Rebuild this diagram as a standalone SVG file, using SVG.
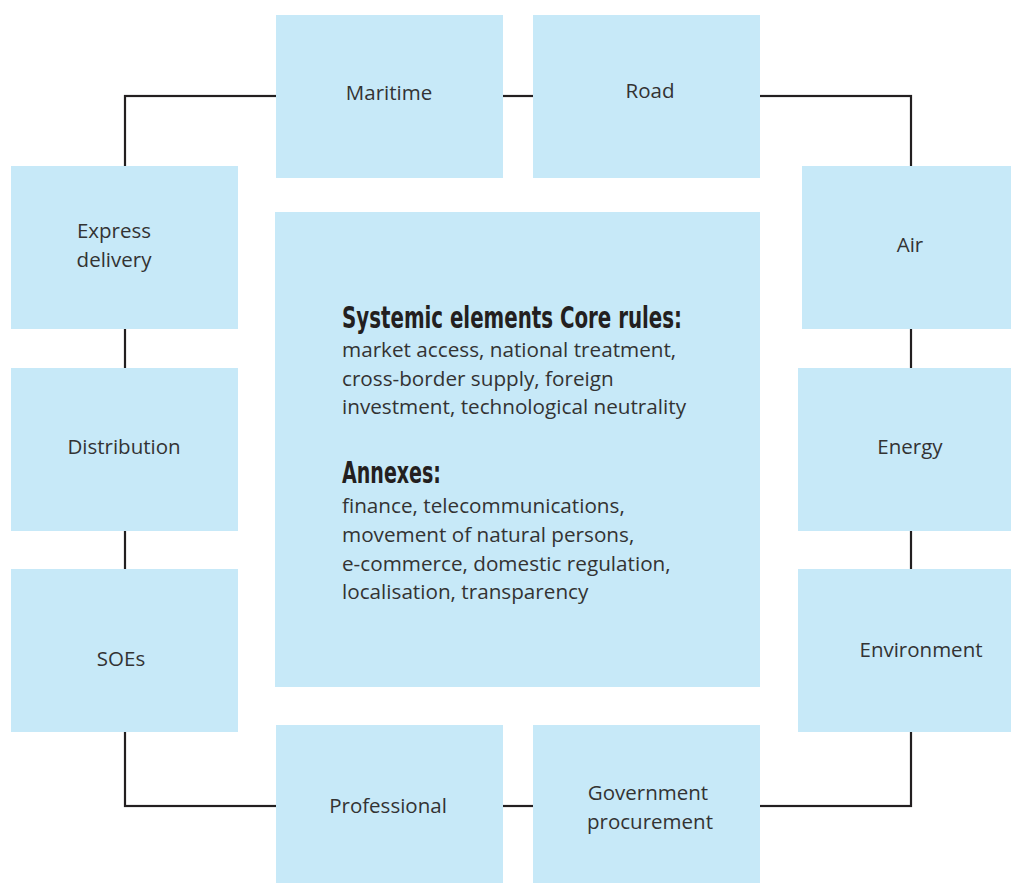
<svg xmlns="http://www.w3.org/2000/svg" width="1011" height="883" viewBox="0 0 1011 883">
<style>
.box{fill:#c7e9f8}
.lbl{font-family:"Open Sans",Lato,sans-serif;font-size:20.5px;fill:#333333;text-anchor:middle}
.body{font-family:"Open Sans",Lato,sans-serif;font-size:20.7px;fill:#333333}
.hd{font-family:"Liberation Sans Narrow","DejaVu Sans Condensed",sans-serif;font-weight:bold;font-size:30px;fill:#231f20}
.conn{fill:none;stroke:#231f20;stroke-width:2.2}
</style>
<rect width="1011" height="883" fill="#ffffff"/>
<g id="connectors">
<rect class="conn" x="125" y="96" width="786" height="710"/>
</g>
<g id="maritime"><rect class="box" x="276" y="15" width="227" height="163"/><text class="lbl" x="389" y="100">Maritime</text></g>
<g id="road"><rect class="box" x="533" y="15" width="227" height="163"/><text class="lbl" x="650" y="98">Road</text></g>
<g id="express"><rect class="box" x="11" y="166" width="227" height="163"/><text class="lbl" x="114" y="238">Express</text><text class="lbl" x="114" y="267">delivery</text></g>
<g id="air"><rect class="box" x="802" y="166" width="209" height="163"/><text class="lbl" x="910" y="252">Air</text></g>
<g id="distribution"><rect class="box" x="11" y="368" width="227" height="163"/><text class="lbl" x="124" y="454">Distribution</text></g>
<g id="energy"><rect class="box" x="798" y="368" width="213" height="163"/><text class="lbl" x="910" y="454">Energy</text></g>
<g id="soes"><rect class="box" x="11" y="569" width="227" height="163"/><text class="lbl" x="121" y="666">SOEs</text></g>
<g id="environment"><rect class="box" x="798" y="569" width="213" height="163"/><text class="lbl" x="921" y="657">Environment</text></g>
<g id="professional"><rect class="box" x="276" y="725" width="227" height="158"/><text class="lbl" x="388" y="813">Professional</text></g>
<g id="government"><rect class="box" x="533" y="725" width="227" height="158"/><text class="lbl" x="648" y="800">Government</text><text class="lbl" x="650" y="829">procurement</text></g>
<g id="center">
<rect class="box" x="275" y="212" width="485" height="475"/>
<text class="hd" x="342" y="328" textLength="340" lengthAdjust="spacingAndGlyphs">Systemic elements Core rules:</text>
<text class="body" x="342" y="357">market access, national treatment,</text>
<text class="body" x="342" y="386">cross-border supply, foreign</text>
<text class="body" x="342" y="414">investment, technological neutrality</text>
<text class="hd" x="342" y="483" textLength="99" lengthAdjust="spacingAndGlyphs">Annexes:</text>
<text class="body" x="342" y="513">finance, telecommunications,</text>
<text class="body" x="342" y="542">movement of natural persons,</text>
<text class="body" x="342" y="571">e-commerce, domestic regulation,</text>
<text class="body" x="342" y="599">localisation, transparency</text>
</g>
</svg>
